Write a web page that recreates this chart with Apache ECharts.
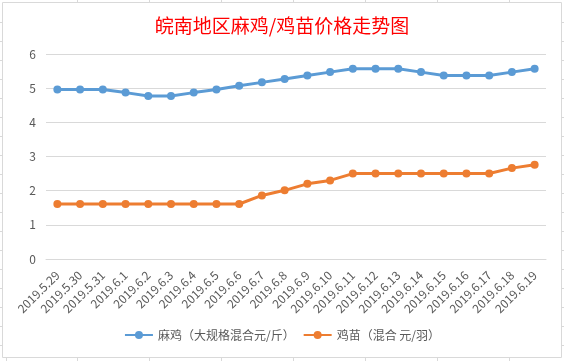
<!DOCTYPE html>
<html><head><meta charset="utf-8">
<script src="https://cdn.jsdelivr.net/npm/echarts@6/dist/echarts.min.js"></script>
<style>html,body{margin:0;padding:0;background:#fff}#c{width:564px;height:361px}</style>
</head><body><div id="c"></div>
<script>
var titleText = '皖南地区麻鸡/鸡苗价格走势图';
var categories = ['2019.5.29','2019.5.30','2019.5.31','2019.6.1','2019.6.2','2019.6.3','2019.6.4','2019.6.5','2019.6.6','2019.6.7','2019.6.8','2019.6.9','2019.6.10','2019.6.11','2019.6.12','2019.6.13','2019.6.14','2019.6.15','2019.6.16','2019.6.17','2019.6.18','2019.6.19'];
var seriesNames = ['麻鸡（大规格混合元/斤）','鸡苗（混合 元/羽）'];
var maji = [4.96,4.96,4.96,4.87,4.77,4.77,4.87,4.96,5.07,5.17,5.27,5.37,5.47,5.57,5.57,5.57,5.47,5.37,5.37,5.37,5.47,5.57];
var jimiao = [1.61,1.61,1.61,1.61,1.61,1.61,1.61,1.61,1.61,1.86,2.01,2.2,2.3,2.5,2.5,2.5,2.5,2.5,2.5,2.5,2.66,2.76];
var yTicks = {min:0, max:6, interval:1};

var chart = echarts.init(document.getElementById('c'));
var g = [];
var lc = '#d9d9d9';
// chart frame
g.push({type:'rect', shape:{x:2.5,y:2.5,width:559,height:355}, style:{fill:'none',stroke:lc,lineWidth:1}, silent:true});
// spreadsheet cell borders outside chart
var cols = [6,77,149,221,293,365,437,509];
cols.forEach(function(x){
  if (x>10) g.push({type:'line', shape:{x1:x+0.5,y1:0,x2:x+0.5,y2:2.5}, style:{stroke:lc}, silent:true});
  g.push({type:'line', shape:{x1:x+0.5,y1:357.5,x2:x+0.5,y2:361}, style:{stroke:lc}, silent:true});
});
for (var k=0;k<18;k++){
  var y = 22.5+19*k;
  g.push({type:'line', shape:{x1:0,y1:y,x2:2.5,y2:y}, style:{stroke:lc}, silent:true});
  g.push({type:'line', shape:{x1:561.5,y1:y,x2:564,y2:y}, style:{stroke:lc}, silent:true});
}

var ff = '"Noto Sans CJK SC","Microsoft YaHei",sans-serif';
chart.setOption({
  animation:false,
  textStyle:{fontFamily:ff},
  title:{text:titleText, left:'center', top:11, textStyle:{color:'#ff0000', fontSize:19, fontWeight:'normal', fontFamily:ff}},
  grid:{left:46, right:18, top:54, bottom:102},
  legend:{bottom:15, left:'center', itemWidth:28, itemHeight:10, itemGap:8,
    textStyle:{color:'#595959', fontSize:12, fontFamily:ff}, data:seriesNames},
  xAxis:{type:'category', data:categories, boundaryGap:true,
    axisLine:{lineStyle:{color:lc}}, axisTick:{show:false},
    axisLabel:{rotate:45, interval:0, color:'#595959', fontSize:12, margin:14, fontFamily:ff}},
  yAxis:{type:'value', min:yTicks.min, max:yTicks.max, interval:yTicks.interval,
    axisLine:{show:false}, axisTick:{show:false},
    splitLine:{lineStyle:{color:lc}},
    axisLabel:{color:'#595959', fontSize:12, margin:10, fontFamily:ff}},
  series:[
    {name:seriesNames[0], type:'line', data:maji, symbol:'circle', symbolSize:8, showAllSymbol:true,
      itemStyle:{color:'#5b9bd5'}, lineStyle:{color:'#5b9bd5', width:3}},
    {name:seriesNames[1], type:'line', data:jimiao, symbol:'circle', symbolSize:8, showAllSymbol:true,
      itemStyle:{color:'#ed7d31'}, lineStyle:{color:'#ed7d31', width:3}}
  ],
  graphic:g
});
</script></body></html>
